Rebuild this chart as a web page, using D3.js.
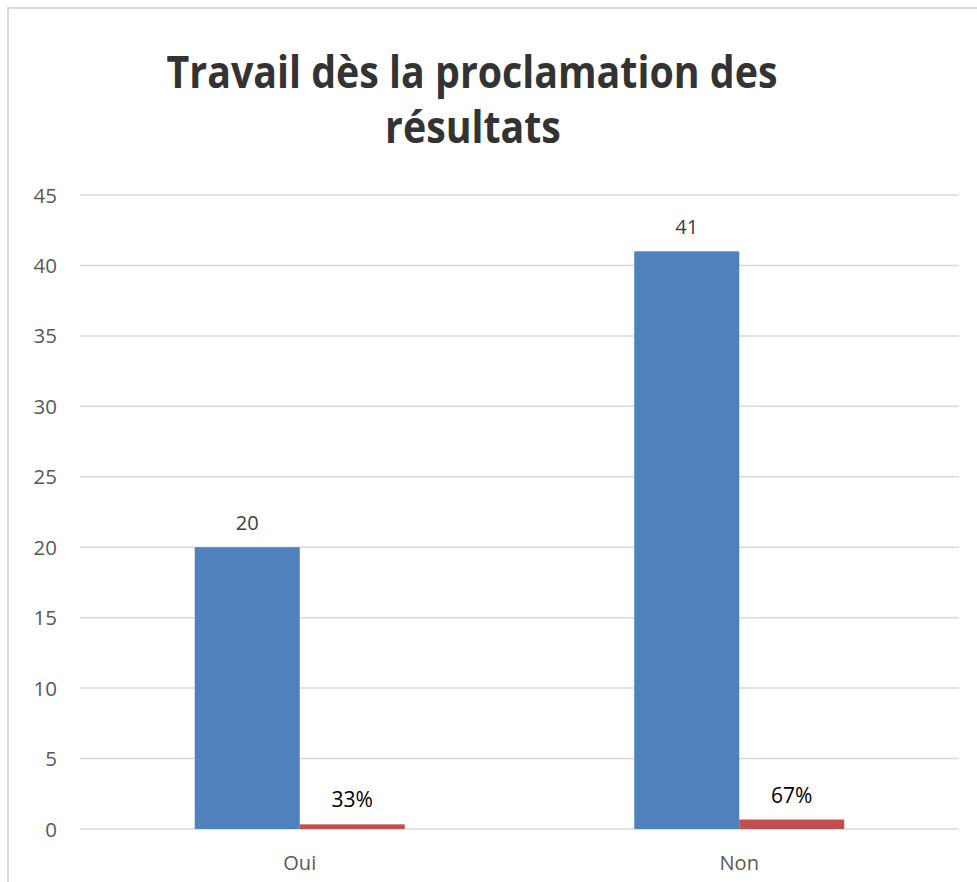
<!DOCTYPE html>
<html><head><meta charset="utf-8">
<script src="https://cdn.jsdelivr.net/npm/d3@7/dist/d3.min.js"></script>
<style>body{margin:0;background:#fff}svg{display:block}</style>
</head><body>
<svg id="c" width="977" height="882"></svg>
<script>
const categories = ["Oui", "Non"];
const countValues = [20, 41];
const shareValues = [0.33, 0.67];
const shareLabels = ["33%", "67%"];
const yTicks = [0, 5, 10, 15, 20, 25, 30, 35, 40, 45];
const titleLines = ["Travail dès la proclamation des", "résultats"];

const svg = d3.select("#c");
const font = "'Open Sans', 'Noto Sans', sans-serif";

// border
svg.append("path").attr("d", "M8,900 L8,8 L990,8").attr("fill", "none")
  .attr("stroke", "#d9d9d9").attr("stroke-width", 2);

const x0 = d3.scaleBand().domain(categories).range([80, 959]);
const x1 = d3.scaleBand().domain(["count", "share"]).range([0, 210]);
const y = d3.scaleLinear().domain([0, 45]).range([829, 195]);

// grid
svg.append("g").selectAll("line").data(yTicks).join("line")
  .attr("x1", 80).attr("x2", 959)
  .attr("y1", d => y(d)).attr("y2", d => y(d))
  .attr("stroke", "#d9d9d9").attr("stroke-width", 1.5);

// y labels
svg.append("g").selectAll("text").data(yTicks).join("text")
  .attr("x", 57).attr("y", d => y(d) + 7.5)
  .attr("text-anchor", "end").attr("font-family", font).attr("font-size", 20.5)
  .attr("fill", "#595959").text(d => d);

const groupOff = (x0.bandwidth() - 210) / 2;
const g = svg.append("g");
categories.forEach((c, i) => {
  const gx = x0(c) + groupOff;
  g.append("rect").attr("x", gx + x1("count")).attr("width", x1.bandwidth())
    .attr("y", y(countValues[i])).attr("height", y(0) - y(countValues[i]))
    .attr("fill", "#4f81bd");
  g.append("rect").attr("x", gx + x1("share")).attr("width", x1.bandwidth())
    .attr("y", y(shareValues[i])).attr("height", y(0) - y(shareValues[i]))
    .attr("fill", "#c0504d");
  g.append("text").attr("x", gx + x1("count") + x1.bandwidth() / 2)
    .attr("y", y(countValues[i]) - 17).attr("text-anchor", "middle")
    .attr("font-family", font).attr("font-size", 20).attr("fill", "#404040")
    .text(countValues[i]);
  g.append("text").attr("x", gx + x1("share") + x1.bandwidth() / 2)
    .attr("y", y(shareValues[i]) - 17).attr("text-anchor", "middle")
    .attr("font-family", font).attr("font-size", 21).attr("fill", "#000")
    .text(shareLabels[i]);
  g.append("text").attr("x", x0(c) + x0.bandwidth() / 2).attr("y", 870)
    .attr("text-anchor", "middle").attr("font-family", font).attr("font-size", 20)
    .attr("fill", "#595959").text(c);
});

// title
const tg1 = svg.append("g").attr("transform", "translate(472,88) scale(1,1.13)");
const t1 = tg1.append("text").attr("text-anchor", "middle")
  .attr("font-family", font).attr("font-weight", "bold").attr("font-size", 44)
  .attr("fill", "#333333").text(titleLines[0]);
const w = t1.node().getComputedTextLength();
const fs = 44 * 611 / w;
t1.attr("font-size", fs);
svg.append("g").attr("transform", "translate(473,143) scale(1,1.13)")
  .append("text").attr("text-anchor", "middle")
  .attr("font-family", font).attr("font-weight", "bold").attr("font-size", fs)
  .attr("fill", "#333333").text(titleLines[1]);
</script>
</body></html>
